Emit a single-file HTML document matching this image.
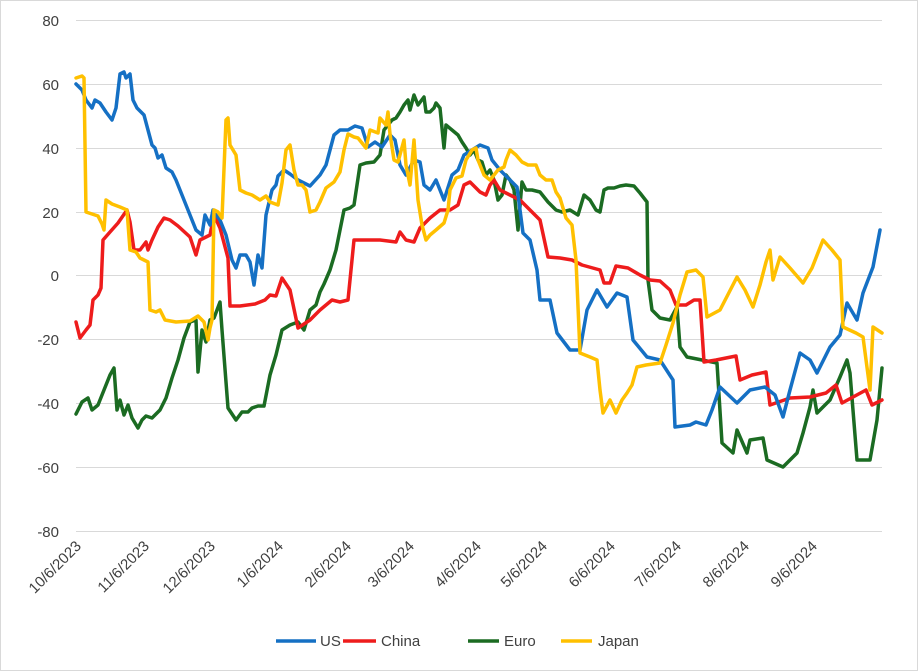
<!DOCTYPE html>
<html><head><meta charset="utf-8"><style>
html,body{margin:0;padding:0;background:#fff}
svg{display:block;font-family:"Liberation Sans",sans-serif}
</style></head><body>
<svg width="918" height="671" viewBox="0 0 918 671" xmlns="http://www.w3.org/2000/svg">
<rect x="0.5" y="0.5" width="917" height="670" fill="#fff" stroke="#d9d9d9"/>
<g stroke="#d9d9d9" stroke-width="1">
<line x1="76" x2="882" y1="20.5" y2="20.5"/><line x1="76" x2="882" y1="84.5" y2="84.5"/>
<line x1="76" x2="882" y1="148.5" y2="148.5"/><line x1="76" x2="882" y1="212.5" y2="212.5"/>
<line x1="76" x2="882" y1="275.5" y2="275.5"/><line x1="76" x2="882" y1="339.5" y2="339.5"/>
<line x1="76" x2="882" y1="403.5" y2="403.5"/><line x1="76" x2="882" y1="467.5" y2="467.5"/>
<line x1="76" x2="882" y1="531.5" y2="531.5"/>
</g>
<g font-size="15" fill="#404040" text-anchor="end">
<text x="59" y="26">80</text><text x="59" y="90">60</text><text x="59" y="154">40</text>
<text x="59" y="218">20</text><text x="59" y="281">0</text><text x="59" y="345">-20</text>
<text x="59" y="409">-40</text><text x="59" y="473">-60</text><text x="59" y="537">-80</text>
</g>
<g font-size="15" fill="#404040" text-anchor="end">
<text transform="translate(82,547) rotate(-45)">10/6/2023</text>
<text transform="translate(150,547) rotate(-45)">11/6/2023</text>
<text transform="translate(216,547) rotate(-45)">12/6/2023</text>
<text transform="translate(284,547) rotate(-45)">1/6/2024</text>
<text transform="translate(352,547) rotate(-45)">2/6/2024</text>
<text transform="translate(415,547) rotate(-45)">3/6/2024</text>
<text transform="translate(482,547) rotate(-45)">4/6/2024</text>
<text transform="translate(548,547) rotate(-45)">5/6/2024</text>
<text transform="translate(616,547) rotate(-45)">6/6/2024</text>
<text transform="translate(682,547) rotate(-45)">7/6/2024</text>
<text transform="translate(750,547) rotate(-45)">8/6/2024</text>
<text transform="translate(818,547) rotate(-45)">9/6/2024</text>
</g>
<g fill="none" stroke-width="3.5" stroke-linejoin="round" stroke-linecap="round">
<polyline stroke="#1b6b22" points="76,414 82,402 88,398 92,410 98,405 104,390 110,375 114,368 117,410 120,400 124,415 128,405 132,418 138,428 142,420 146,416 152,418 160,410 166,398 172,378 178,360 184,338 190,322 196,320 198,372 202,330 206,342 210,320 214,318 220,302 222,330 228,408 236,420 242,412 248,412 252,408 258,406 264,406 270,375 276,355 282,330 290,325 298,322 304,330 310,310 316,305 320,292 324,284 330,270 336,250 344,210 350,208 354,205 360,165 366,163 374,162 380,155 384,130 388,125 392,120 396,118 400,112 404,105 408,100 410,110 414,95 418,105 424,97 426,112 430,112 434,108 436,103 440,108 444,148 446,125 452,130 458,135 462,142 466,148 470,155 474,150 478,160 482,162 486,175 490,170 494,180 498,200 502,195 506,175 510,180 514,190 518,230 522,182 526,190 532,190 540,192 548,202 556,210 562,212 570,210 578,215 584,195 590,200 596,210 600,212 604,190 608,188 614,188 620,186 626,185 634,186 640,193 647,202 648,280 652,310 660,318 670,320 677,307 680,347 687,357 717,363 722,443 733,453 737,430 747,453 750,440 763,438 767,460 783,467 797,453 803,433 810,407 813,390 817,413 830,400 840,377 847,360 850,373 857,460 870,460 877,420 882,368"/>
<polyline stroke="#ee1c1c" points="76,322 80,338 86,330 90,325 93,300 98,295 101,288 103,240 110,232 118,223 127,210 130,222 134,250 140,250 146,242 148,250 152,240 158,227 164,218 170,220 178,226 190,237 196,255 200,240 210,235 214,215 220,228 228,258 230,306 240,306 255,304 265,300 270,295 276,296 282,278 290,290 298,328 310,320 320,310 326,305 332,300 340,302 348,300 354,240 362,240 380,240 396,242 400,232 406,240 414,242 420,228 430,218 440,210 450,210 458,205 464,185 470,182 476,188 480,192 486,195 490,185 494,180 500,190 510,195 520,200 530,210 540,220 548,257 560,258 572,260 582,265 600,270 604,283 610,283 616,266 628,268 640,275 650,280 660,281 670,290 676,305 686,305 694,300 700,300 704,362 716,360 736,356 740,380 752,375 766,372 770,405 790,398 810,397 826,393 836,385 842,403 866,390 872,405 882,400"/>
<polyline stroke="#1570c4" points="76,84 82,90 86,100 92,108 95,100 100,103 106,112 112,120 116,108 120,74 124,72 126,78 130,74 133,100 137,108 144,115 148,130 152,145 155,148 158,158 162,155 166,168 172,172 176,180 180,190 186,205 190,215 196,230 202,235 205,215 210,225 213,210 216,215 220,220 226,235 232,260 236,268 240,255 246,255 250,262 254,285 258,255 262,268 266,215 272,190 276,185 278,176 284,170 290,174 298,180 310,186 320,175 326,165 334,135 340,130 348,130 355,126 362,128 368,147 375,142 382,147 390,135 395,140 400,165 406,175 414,160 420,162 424,185 430,190 436,180 444,200 452,175 458,170 464,155 472,150 480,145 488,148 492,160 500,170 510,180 517,187 523,233 530,240 537,270 540,300 550,300 557,333 570,350 580,350 587,310 597,290 607,307 617,293 627,297 633,340 647,357 660,360 673,380 675,427 690,425 696,422 706,425 712,410 720,387 737,403 750,390 765,387 775,395 783,417 790,390 800,353 810,360 817,373 830,347 840,335 847,303 857,320 863,293 873,267 880,230"/>
<polyline stroke="#ffc000" points="76,78 82,76 84,78 86,212 92,214 98,216 102,224 104,230 106,200 112,204 120,207 127,210 130,250 136,252 140,258 148,262 150,310 156,312 160,310 165,320 176,322 190,321 198,316 204,322 208,340 210,328 212,320 214,210 218,212 222,218 226,120 228,118 230,145 236,155 240,190 246,193 252,195 260,200 266,196 270,202 278,205 282,183 286,150 290,145 294,170 298,185 302,185 306,190 310,212 316,210 320,202 326,188 334,182 340,172 344,150 348,134 354,137 358,138 366,148 370,130 378,133 380,118 386,125 388,112 390,134 394,160 398,162 404,140 406,165 410,185 414,140 418,200 422,225 426,240 430,235 436,230 444,223 448,210 450,190 456,178 462,176 466,160 472,150 476,148 478,160 484,175 490,180 494,175 498,170 504,167 506,160 508,155 510,150 516,155 522,162 528,165 536,165 540,175 546,180 552,180 556,192 560,198 566,218 572,225 576,260 580,353 590,357 597,360 600,390 603,413 610,400 616,413 622,400 627,393 632,385 637,367 646,365 660,363 666,345 673,323 680,295 687,272 696,270 703,277 707,317 720,310 737,277 745,290 753,307 760,285 766,262 770,250 773,280 780,257 790,268 803,283 812,268 823,240 832,250 840,260 843,327 856,333 863,337 870,390 873,327 882,333"/>
</g>
<g font-size="15" fill="#404040">
<line x1="276" x2="316" y1="641" y2="641" stroke="#1570c4" stroke-width="3.5"/><text x="320" y="646">US</text>
<line x1="343" x2="376" y1="641" y2="641" stroke="#ee1c1c" stroke-width="3.5"/><text x="381" y="646">China</text>
<line x1="468" x2="499" y1="641" y2="641" stroke="#1b6b22" stroke-width="3.5"/><text x="504" y="646">Euro</text>
<line x1="561" x2="592" y1="641" y2="641" stroke="#ffc000" stroke-width="3.5"/><text x="598" y="646">Japan</text>
</g>
</svg>
</body></html>
